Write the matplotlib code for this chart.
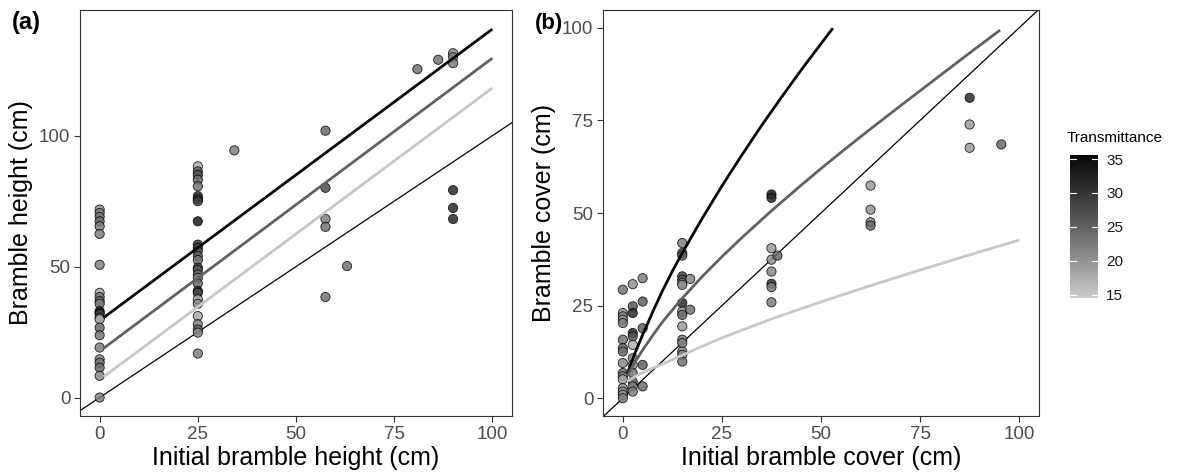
import numpy as np
import matplotlib
matplotlib.use("Agg")
import matplotlib.pyplot as plt
from matplotlib.colors import ListedColormap, Normalize
from matplotlib.cm import ScalarMappable

plt.rcParams['font.family'] = ['Liberation Sans', 'DejaVu Sans']

# ---------------- data: panel (a) height ----------------
a_x = [0]*24 + [25]*28 + [34.3, 57.5, 57.5, 57.5, 57.5, 57.5, 63, 80.9, 86.2, 90, 90, 90, 90, 90, 90]
a_y = [71.8, 70.5, 69.0, 67.3, 65.4, 62.5, 50.7, 40.0, 38.4, 36.8, 35.8, 33.0, 32.4, 31.8,
       30.5, 29.9, 26.7, 23.8, 19.1, 14.6, 13.3, 11.4, 8.3, 0.0,
       88.3, 86.4, 85.1, 83.2, 80.7, 76.9, 75.9, 75.0, 67.3, 58.4, 57.2, 55.9, 54.0, 52.5,
       49.6, 48.7, 47.0, 45.7, 43.6, 40.7, 40.0, 37.5, 35.8, 31.1, 28.0, 26.0, 24.8, 16.8,
       94.4, 101.9, 80.1, 68.2, 65.2, 38.4, 50.2, 125.4, 129.0, 131.5, 130.0, 127.7, 79.2, 72.4, 68.2]
a_t = [20, 22, 23, 24, 22, 22, 22, 18, 23, 24, 22, 30, 32, 28, 24, 17, 24, 23, 22, 21, 23, 24, 21, 22,
       17, 25, 27, 24, 23, 31, 30, 29, 33, 30, 28, 26, 25, 23, 28, 26, 24, 22, 24, 30, 28, 18, 21, 18,
       22, 24, 21, 22,
       22, 24, 27, 22, 23, 23, 23, 23, 23, 21, 22, 22, 31, 31, 31]

# fitted lines (a) by transmittance level
a_line_x = [1, 100]
a_line_t = [35, 25, 15]
a_line_y = {35: [30.5, 140.7], 25: [18.8, 129.6], 15: [7.9, 118.2]}

# ---------------- data: panel (b) cover ----------------
b_x = [0]*16 + [2.5]*12 + [5]*5 + [15]*16 + [17]*2 + [37.5]*8 + [39] + [62.5]*4 + [87.5]*3 + [95.5]
b_y = [29.3, 23.0, 22.1, 21.2, 20.3, 15.8, 13.5, 12.6, 9.5, 6.8, 5.9, 5.1, 2.7, 1.8, 0.9, 0.0,
       30.8, 24.8, 23.0, 17.6, 16.7, 14.4, 10.8, 9.0, 6.8, 4.5, 3.2, 1.8,
       32.4, 26.1, 18.9, 9.0, 3.2,
       41.9, 39.2, 38.5, 32.9, 32.0, 31.1, 30.6, 25.7, 23.4, 22.5, 19.4, 15.8, 14.9, 12.6, 11.7, 9.9,
       32.2, 23.9,
       55.0, 54.1, 40.5, 37.4, 34.2, 30.9, 30.0, 25.9,
       38.5,
       57.4, 50.9, 47.5, 46.6,
       81.1, 73.9, 67.6,
       68.5]
b_t = [23, 20, 21, 20, 22, 23, 24, 23, 21, 24, 22, 18, 20, 21, 20, 22,
       20, 26, 31, 32, 26, 17, 22, 20, 23, 25, 22, 22,
       22, 25, 25, 25, 24,
       22, 27, 25, 28, 26, 21, 20, 31, 20, 24, 19, 23, 22, 21, 22, 23,
       21, 23,
       33, 31, 19, 20, 21, 30, 22, 22,
       24,
       19, 20, 21, 24,
       31, 19, 19,
       24]

# fitted curves (b)
b_curve_x = {35: [1.1, 3, 5, 7.5, 10, 12.5, 15, 20, 25, 30, 35, 40, 45, 50, 53],
             25: [1.1, 3, 5, 7.5, 10, 15, 20, 25, 30, 37.5, 45, 50, 56, 62.5, 70, 75, 81, 87.5, 95.2],
             15: [1.1, 3, 5, 7.5, 10, 15, 20, 25, 37.5, 50, 62.5, 75, 87.5, 100]}
b_curve_y = {35: [6.5, 12.0, 17.1, 23.2, 29.0, 34.3, 39.2, 48.5, 57.3, 65.6, 73.6, 81.2, 88.6, 95.7, 99.9],
             25: [6.0, 9.6, 13.0, 16.9, 20.6, 27.0, 32.8, 38.2, 43.3, 50.6, 57.5, 62.0, 67.2, 72.7,
                  78.9, 83.0, 87.9, 93.2, 99.4],
             15: [4.6, 5.8, 6.9, 8.1, 9.2, 11.6, 14.0, 16.3, 21.4, 26.0, 30.4, 34.6, 38.7, 42.7]}

cb_ticks = [15, 20, 25, 30, 35]
t_min, t_max = 14.5, 35.6

# ---------------- colormap: grey80 -> black in Lab lightness ----------------
def grey_from_L(L):
    Y = np.where(L > 8, ((L + 16) / 116) ** 3, L / 903.3)
    s = np.where(Y <= 0.0031308, 12.92 * Y, 1.055 * Y ** (1 / 2.4) - 0.055)
    return np.clip(s, 0, 1)

L0 = 82.06
tt = np.linspace(0, 1, 256)
g = grey_from_L(L0 * (1 - tt))
cmap = ListedColormap(np.column_stack([g, g, g]))
norm = Normalize(vmin=t_min, vmax=t_max)

W, H = 1194, 474
fig = plt.figure(figsize=(W / 100, H / 100), dpi=100)

def fx(px):
    return px / W

def fy(py):
    return 1 - py / H

axA = fig.add_axes([fx(80), fy(416), fx(512) - fx(80), fy(10) - fy(416)])
axB = fig.add_axes([fx(603), fy(416), fx(1039) - fx(603), fy(10) - fy(416)])
cax = fig.add_axes([fx(1070), fy(298), fx(1098) - fx(1070), fy(155) - fy(298)])

edge_col = '#333333'
tick_col = '#4d4d4d'

def style(ax):
    for s in ax.spines.values():
        s.set_color(edge_col)
        s.set_linewidth(0.8)
    ax.tick_params(axis='both', direction='out', length=4, width=0.8, color=edge_col,
                   labelcolor=tick_col, labelsize=13.5, pad=3)

# panel (a)
axA.axline((0, 0), slope=1, color='black', lw=0.9, zorder=2)
axA.scatter(a_x, a_y, c=a_t, cmap=cmap, norm=norm, s=44, edgecolors='black',
            linewidths=0.6, alpha=0.85, zorder=3)
for t in a_line_t:
    axA.plot(a_line_x, a_line_y[t], color=cmap(norm(t)), lw=2.0, zorder=4,
             solid_capstyle='butt')
axA.set_xlim(-5, 105)
axA.set_ylim(-7.05, 148)
axA.set_xticks([0, 25, 50, 75, 100])
axA.set_yticks([0, 50, 100])
axA.set_xlabel('Initial bramble height (cm)', fontsize=18, labelpad=2)
axA.set_ylabel('Bramble height (cm)', fontsize=18, labelpad=4)
style(axA)

# panel (b)
axB.axline((0, 0), slope=1, color='black', lw=0.9, zorder=2)
axB.scatter(b_x, b_y, c=b_t, cmap=cmap, norm=norm, s=44, edgecolors='black',
            linewidths=0.6, alpha=0.85, zorder=3)
for t in [35, 25, 15]:
    axB.plot(b_curve_x[t], b_curve_y[t], color=cmap(norm(t)), lw=2.0, zorder=4,
             solid_capstyle='butt', solid_joinstyle='round')
axB.set_xlim(-5, 105)
axB.set_ylim(-4.8, 104.8)
axB.set_xticks([0, 25, 50, 75, 100])
axB.set_yticks([0, 25, 50, 75, 100])
axB.set_xlabel('Initial bramble cover (cm)', fontsize=18, labelpad=2)
axB.set_ylabel('Bramble cover (cm)', fontsize=18, labelpad=4)
style(axB)

fig.text(fx(12), fy(29), '(a)', fontsize=17, fontweight='bold', va='baseline', ha='left')
fig.text(fx(535), fy(29), '(b)', fontsize=16, fontweight='bold', va='baseline', ha='left')

# colorbar
sm = ScalarMappable(norm=norm, cmap=cmap)
cb = fig.colorbar(sm, cax=cax, ticks=cb_ticks)
cb.outline.set_visible(False)
cax.tick_params(length=0, labelsize=11, labelcolor='#1a1a1a', pad=6)
for t in cb_ticks:
    cax.plot([0, 0.2], [t, t], color='white', lw=0.8, transform=cax.get_yaxis_transform())
    cax.plot([0.8, 1.0], [t, t], color='white', lw=0.8, transform=cax.get_yaxis_transform())
fig.text(fx(1067), fy(142), 'Transmittance', fontsize=11, ha='left', va='baseline', color='black')

fig.savefig('out.png', dpi=100)
